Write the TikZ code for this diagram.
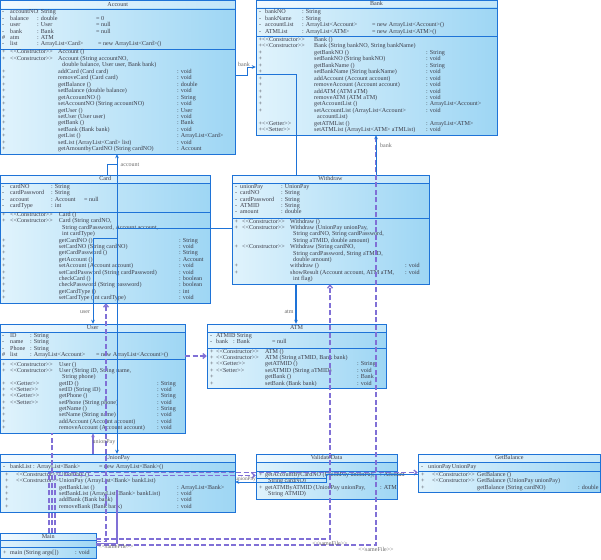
\documentclass[tikz,border=0pt]{standalone}
\usepackage{fontspec}
\setmainfont{Liberation Serif}[Ligatures=TeXOff]
\usetikzlibrary{arrows.meta,fit}
\definecolor{bodyL}{RGB}{224,243,252}
\definecolor{bodyR}{RGB}{158,214,244}
\definecolor{titleL}{RGB}{242,250,255}
\definecolor{titleR}{RGB}{192,229,249}
\definecolor{bord}{RGB}{30,115,215}
\definecolor{depc}{RGB}{128,112,214}
\definecolor{txtc}{RGB}{60,60,72}
\newcounter{tn}
\newcommand\tx[3]{\stepcounter{tn}\node[txt] (t\arabic{tn}) at (#1,#2) {#3};}
\newcommand\st[1]{<\kern0pt<#1>\kern0pt>}
\newcommand\umlclass[8]{%
  \shade[left color=titleL,right color=titleR] (#2,#3) rectangle (#4,#6);
  \shade[left color=bodyL,right color=bodyR] (#2,#6) rectangle (#4,#5);
  \draw[border] (#2,#3) rectangle (#4,#5);
  \draw[border] (#2,#6) -- (#4,#6);
  \draw[border] (#2,#7) -- (#4,#7);
  \node[fit={(#2,#3) (#4,#5)},inner sep=0pt] (#1) {};
  \node[ttl] (#1-title) at ({(#2+#4)/2},{(#3+#6)/2}) {#8};
}
\begin{document}
\begin{tikzpicture}[x=1pt,y=-1pt,
  txt/.style={anchor=west,inner sep=0pt,text height=4.2pt,text depth=1.2pt,font=\fontsize{6.1}{7}\selectfont,text=txtc},
  ttl/.style={anchor=center,inner sep=0pt,text height=4.2pt,text depth=1.2pt,font=\fontsize{6.1}{7}\selectfont,text=txtc},
  lbl/.style={anchor=center,inner sep=0pt,text height=4.2pt,text depth=1.2pt,font=\fontsize{6}{7}\selectfont,text=gray!85!black},
  border/.style={draw=bord,line width=0.9pt},
  assoc/.style={draw=bord,line width=0.9pt},
  dep/.style={draw=depc,line width=1.3pt,dash pattern=on 5pt off 2.5pt},
  sol/.style={draw=depc,line width=1.1pt},
  tipA/.style={-{Stealth[length=4pt,width=3.6pt]}},
  tipO/.style={-{Straight Barb[length=3pt,width=5pt]}},
]
\fill[white] (0,0) rectangle (601,559);
\useasboundingbox (0,0) rectangle (601,559);

% ---------------- Account
\umlclass{account}{0.5}{0.5}{235}{154}{9}{49}{Account}
\tx{2}{12.5}{-}\tx{10}{12.5}{accountNO}\tx{37}{12.5}{: String}
\tx{2}{18.9}{-}\tx{10}{18.9}{balance}\tx{37}{18.9}{: double}\tx{96}{18.9}{= 0}
\tx{2}{25.3}{-}\tx{10}{25.3}{user}\tx{37}{25.3}{: User}\tx{96}{25.3}{= null}
\tx{2}{31.7}{-}\tx{10}{31.7}{bank}\tx{37}{31.7}{: Bank}\tx{96}{31.7}{= null}
\tx{2}{38.1}{\#}\tx{10}{38.1}{atm}\tx{37}{38.1}{: ATM}
\tx{2}{44.5}{-}\tx{10}{44.5}{list}\tx{37}{44.5}{: ArrayList<Card>}\tx{98}{44.5}{= new ArrayList<Card>()}
\tx{2}{52.5}{+}\tx{10}{52.5}{\st{Constructor}}\tx{58}{52.5}{Account ()}
\tx{2}{58.95}{+}\tx{10}{58.95}{\st{Constructor}}\tx{58}{58.95}{Account (String accountNO,}
\tx{62}{65.4}{double balance, User user, Bank bank)}
\tx{2}{71.85}{+}\tx{58}{71.85}{addCard (Card card)}\tx{177}{71.85}{: void}
\tx{2}{78.3}{+}\tx{58}{78.3}{removeCard (Card card)}\tx{177}{78.3}{: void}
\tx{2}{84.75}{+}\tx{58}{84.75}{getBalance ()}\tx{177}{84.75}{: double}
\tx{2}{91.2}{+}\tx{58}{91.2}{setBalance (double balance)}\tx{177}{91.2}{: void}
\tx{2}{97.65}{+}\tx{58}{97.65}{getAccountNO ()}\tx{177}{97.65}{: String}
\tx{2}{104.1}{+}\tx{58}{104.1}{setAccountNO (String accountNO)}\tx{177}{104.1}{: void}
\tx{2}{110.55}{+}\tx{58}{110.55}{getUser ()}\tx{177}{110.55}{: User}
\tx{2}{117}{+}\tx{58}{117}{setUser (User user)}\tx{177}{117}{: void}
\tx{2}{123.45}{+}\tx{58}{123.45}{getBank ()}\tx{177}{123.45}{: Bank}
\tx{2}{129.9}{+}\tx{58}{129.9}{setBank (Bank bank)}\tx{177}{129.9}{: void}
\tx{2}{136.35}{+}\tx{58}{136.35}{getList ()}\tx{177}{136.35}{: ArrayList<Card>}
\tx{2}{142.8}{+}\tx{58}{142.8}{setList (ArrayList<Card> list)}\tx{177}{142.8}{: void}
\tx{2}{149.25}{+}\tx{58}{149.25}{getAmountbyCardNO (String cardNO)}\tx{177}{149.25}{: Account}

% ---------------- Bank
\umlclass{bank}{256}{0.5}{497}{135}{8}{36}{Bank}
\tx{259}{12.5}{-}\tx{265}{12.5}{bankNO}\tx{302}{12.5}{: String}
\tx{259}{18.9}{-}\tx{265}{18.9}{bankName}\tx{302}{18.9}{: String}
\tx{259}{25.3}{-}\tx{265}{25.3}{accountList}\tx{302}{25.3}{: ArrayList<Account>}\tx{372}{25.3}{= new ArrayList<Account>()}
\tx{259}{31.7}{-}\tx{265}{31.7}{ATMList}\tx{302}{31.7}{: ArrayList<ATM>}\tx{372}{31.7}{= new ArrayList<ATM>()}
\tx{258.5}{40}{+}\tx{262}{40}{\st{Constructor}}\tx{314}{40}{Bank ()}
\tx{258.5}{46.45}{+}\tx{262}{46.45}{\st{Constructor}}\tx{314}{46.45}{Bank (String bankNO, String bankName)}
\tx{258.5}{52.9}{+}\tx{314}{52.9}{getBankNO ()}\tx{426}{52.9}{: String}
\tx{258.5}{59.35}{+}\tx{314}{59.35}{setBankNO (String bankNO)}\tx{426}{59.35}{: void}
\tx{258.5}{65.8}{+}\tx{314}{65.8}{getBankName ()}\tx{426}{65.8}{: String}
\tx{258.5}{72.25}{+}\tx{314}{72.25}{setBankName (String bankName)}\tx{426}{72.25}{: void}
\tx{258.5}{78.7}{+}\tx{314}{78.7}{addAccount (Account account)}\tx{426}{78.7}{: void}
\tx{258.5}{85.15}{+}\tx{314}{85.15}{removeAccount (Account account)}\tx{426}{85.15}{: void}
\tx{258.5}{91.6}{+}\tx{314}{91.6}{addATM (ATM aTM)}\tx{426}{91.6}{: void}
\tx{258.5}{98.05}{+}\tx{314}{98.05}{removeATM (ATM aTM)}\tx{426}{98.05}{: void}
\tx{258.5}{104.5}{+}\tx{314}{104.5}{getAccountList ()}\tx{426}{104.5}{: ArrayList<Account>}
\tx{258.5}{110.95}{+}\tx{314}{110.95}{setAccountList (ArrayList<Account>}\tx{426}{110.95}{: void}
\tx{317}{117.4}{accountList)}
\tx{258.5}{123.85}{+}\tx{262}{123.85}{\st{Getter}}\tx{314}{123.85}{getATMList ()}\tx{426}{123.85}{: ArrayList<ATM>}
\tx{258.5}{130.3}{+}\tx{262}{130.3}{\st{Setter}}\tx{314}{130.3}{setATMList (ArrayList<ATM> aTMList)}\tx{426}{130.3}{: void}

% ---------------- Card
\umlclass{card}{0.5}{175}{210}{303}{183}{212}{Card}
\tx{2}{187}{-}\tx{10}{187}{cardNO}\tx{51}{187}{: String}
\tx{2}{193.4}{-}\tx{10}{193.4}{cardPassword}\tx{51}{193.4}{: String}
\tx{2}{199.8}{-}\tx{10}{199.8}{account}\tx{51}{199.8}{: Account}\tx{84}{199.8}{= null}
\tx{2}{206.2}{-}\tx{10}{206.2}{cardType}\tx{51}{206.2}{: int}
\tx{2}{215}{+}\tx{10}{215}{\st{Constructor}}\tx{58.7}{215}{Card ()}
\tx{2}{221.4}{+}\tx{10}{221.4}{\st{Constructor}}\tx{58.7}{221.4}{Card (String cardNO,}
\tx{62}{227.8}{String cardPassword, Account account,}
\tx{62}{234.2}{int cardType)}
\tx{2}{240.6}{+}\tx{58.7}{240.6}{getCardNO ()}\tx{179}{240.6}{: String}
\tx{2}{247}{+}\tx{58.7}{247}{setCardNO (String cardNO)}\tx{179}{247}{: void}
\tx{2}{253.4}{+}\tx{58.7}{253.4}{getCardPassword ()}\tx{179}{253.4}{: String}
\tx{2}{259.8}{+}\tx{58.7}{259.8}{getAccount ()}\tx{179}{259.8}{: Account}
\tx{2}{266.2}{+}\tx{58.7}{266.2}{setAccount (Account account)}\tx{179}{266.2}{: void}
\tx{2}{272.6}{+}\tx{58.7}{272.6}{setCardPassword (String cardPassword)}\tx{179}{272.6}{: void}
\tx{2}{279}{+}\tx{58.7}{279}{checkCard ()}\tx{179}{279}{: boolean}
\tx{2}{285.4}{+}\tx{58.7}{285.4}{checkPassword (String password)}\tx{179}{285.4}{: boolean}
\tx{2}{291.8}{+}\tx{58.7}{291.8}{getCardType ()}\tx{179}{291.8}{: int}
\tx{2}{298.2}{+}\tx{58.7}{298.2}{setCardType (int cardType)}\tx{179}{298.2}{: void}

% ---------------- Withdraw
\umlclass{withdraw}{232}{175}{429}{284}{183}{218}{Withdraw}
\tx{235}{187}{-}\tx{240}{187}{unionPay}\tx{281}{187}{: UnionPay}
\tx{235}{193.3}{-}\tx{240}{193.3}{cardNO}\tx{281}{193.3}{: String}
\tx{235}{199.6}{-}\tx{240}{199.6}{cardPassword}\tx{281}{199.6}{: String}
\tx{235}{205.9}{-}\tx{240}{205.9}{ATMID}\tx{281}{205.9}{: String}
\tx{235}{212.2}{-}\tx{240}{212.2}{amount}\tx{281}{212.2}{: double}
\tx{234.5}{221.5}{+}\tx{242}{221.5}{\st{Constructor}}\tx{290}{221.5}{Withdraw ()}
\tx{234.5}{227.9}{+}\tx{242}{227.9}{\st{Constructor}}\tx{290}{227.9}{Withdraw (UnionPay unionPay,}
\tx{293}{234.3}{String cardNO, String cardPassword,}
\tx{293}{240.7}{String aTMID, double amount)}
\tx{234.5}{247.1}{+}\tx{242}{247.1}{\st{Constructor}}\tx{290}{247.1}{Withdraw (String cardNO,}
\tx{293}{253.5}{String cardPassword, String aTMID,}
\tx{293}{259.9}{double amount)}
\tx{234.5}{266.3}{+}\tx{290}{266.3}{withdraw ()}\tx{405}{266.3}{: void}
\tx{234.5}{272.7}{+}\tx{290}{272.7}{showResult (Account account, ATM aTM,}\tx{405}{272.7}{: void}
\tx{293}{279.1}{int flag)}

% ---------------- User
\umlclass{user}{0.5}{324}{185}{433}{332}{359}{User}
\tx{2}{336}{-}\tx{10}{336}{ID}\tx{30}{336}{: String}
\tx{2}{342.4}{-}\tx{10}{342.4}{name}\tx{30}{342.4}{: String}
\tx{2}{348.8}{-}\tx{10}{348.8}{Phone}\tx{30}{348.8}{: String}
\tx{2}{355.2}{\#}\tx{10}{355.2}{list}\tx{30}{355.2}{: ArrayList<Account>}\tx{96}{355.2}{= new ArrayList<Account>()}
\tx{2}{364.5}{+}\tx{10}{364.5}{\st{Constructor}}\tx{59}{364.5}{User ()}
\tx{2}{370.85}{+}\tx{10}{370.85}{\st{Constructor}}\tx{59}{370.85}{User (String iD, String name,}
\tx{62}{377.2}{String phone)}
\tx{2}{383.55}{+}\tx{10}{383.55}{\st{Getter}}\tx{59}{383.55}{getID ()}\tx{157}{383.55}{: String}
\tx{2}{389.9}{+}\tx{10}{389.9}{\st{Setter}}\tx{59}{389.9}{setID (String iD)}\tx{157}{389.9}{: void}
\tx{2}{396.25}{+}\tx{10}{396.25}{\st{Getter}}\tx{59}{396.25}{getPhone ()}\tx{157}{396.25}{: String}
\tx{2}{402.6}{+}\tx{10}{402.6}{\st{Setter}}\tx{59}{402.6}{setPhone (String phone)}\tx{157}{402.6}{: void}
\tx{2}{408.95}{+}\tx{59}{408.95}{getName ()}\tx{157}{408.95}{: String}
\tx{2}{415.3}{+}\tx{59}{415.3}{setName (String name)}\tx{157}{415.3}{: void}
\tx{2}{421.65}{+}\tx{59}{421.65}{addAccount (Account account)}\tx{157}{421.65}{: void}
\tx{2}{428}{+}\tx{59}{428}{removeAccount (Account account)}\tx{157}{428}{: void}

% ---------------- ATM
\umlclass{atm}{207}{324}{386}{388}{332}{348}{ATM}
\tx{210}{336}{-}\tx{216}{336}{ATMID}\tx{233}{336}{: String}
\tx{210}{342.4}{-}\tx{216}{342.4}{bank}\tx{233}{342.4}{: Bank}\tx{272}{342.4}{= null}
\tx{210}{351.5}{+}\tx{216}{351.5}{\st{Constructor}}\tx{265}{351.5}{ATM ()}
\tx{210}{357.9}{+}\tx{216}{357.9}{\st{Constructor}}\tx{265}{357.9}{ATM (String aTMID, Bank bank)}
\tx{210}{364.3}{+}\tx{216}{364.3}{\st{Getter}}\tx{265}{364.3}{getATMID ()}\tx{357}{364.3}{: String}
\tx{210}{370.7}{+}\tx{216}{370.7}{\st{Setter}}\tx{265}{370.7}{setATMID (String aTMID)}\tx{357}{370.7}{: void}
\tx{210}{377.1}{+}\tx{265}{377.1}{getBank ()}\tx{357}{377.1}{: Bank}
\tx{210}{383.5}{+}\tx{265}{383.5}{setBank (Bank bank)}\tx{357}{383.5}{: void}

% ---------------- UnionPay
\umlclass{unionpay}{0.5}{454}{235}{512}{462}{471}{UnionPay}
\tx{3}{466.5}{-}\tx{10}{466.5}{bankList}\tx{33}{466.5}{: ArrayList<Bank>}\tx{99}{466.5}{= new ArrayList<Bank>()}
\tx{5}{474.8}{+}\tx{16}{474.8}{\st{Constructor}}\tx{59}{474.8}{UnionPay ()}
\tx{5}{481.15}{+}\tx{16}{481.15}{\st{Constructor}}\tx{59}{481.15}{UnionPay (ArrayList<Bank> bankList)}
\tx{5}{487.5}{+}\tx{59}{487.5}{getBankList ()}\tx{177}{487.5}{: ArrayList<Bank>}
\tx{5}{493.85}{+}\tx{59}{493.85}{setBankList (ArrayList<Bank> bankList)}\tx{177}{493.85}{: void}
\tx{5}{500.2}{+}\tx{59}{500.2}{addBank (Bank bank)}\tx{177}{500.2}{: void}
\tx{5}{506.55}{+}\tx{59}{506.55}{removeBank (Bank bank)}\tx{177}{506.55}{: void}

% ---------------- ValidateData
\umlclass{validatedata}{256}{454}{397}{499}{462}{471}{ValidateData}
\tx{259}{474.8}{+}\tx{265}{474.8}{getAccountByCardNO (UnionPay unionPay,}\tx{380}{474.8}{: Account}
\tx{268}{481.15}{String cardNO)}
\tx{259}{487.5}{+}\tx{265}{487.5}{getATMByATMID (UnionPay unionPay,}\tx{380}{487.5}{: ATM}
\tx{268}{493.85}{String ATMID)}

% ---------------- GetBalance
\umlclass{getbalance}{418}{454}{600.5}{492}{462}{471}{GetBalance}
\tx{421}{466.5}{-}\tx{428}{466.5}{unionPay}\tx{448}{466.5}{: UnionPay}
\tx{421}{474.8}{+}\tx{432}{474.8}{\st{Constructor}}\tx{477}{474.8}{GetBalance ()}
\tx{421}{481.15}{+}\tx{432}{481.15}{\st{Constructor}}\tx{477}{481.15}{GetBalance (UnionPay unionPay)}
\tx{421}{487.5}{+}\tx{477}{487.5}{getBalance (String cardNO)}\tx{578}{487.5}{: double}

% ---------------- Main
\umlclass{main}{0.5}{533}{96}{558.5}{540}{547}{Main}
\tx{3}{552.5}{+}\tx{10}{552.5}{main (String args[])}\tx{75}{552.5}{: void}

% ================= dependencies (purple)
\draw[dep] (main.east |- 0,545) -- (376,545) -- (376,0 |- bank.south);
\draw[dep,tipO] (main.east |- 0,539) -- (330,539) -- (330,0 |- withdraw.south);
\draw[dep,tipO] (main.east |- 0,541.5) -- (106,541.5) -- (106,0 |- card.south);
\draw[dep] (52,0 |- main.north) -- (52,0 |- user.south);
\draw[dep,tipO] (49,0 |- main.north) -- (49,472.5) -- (getbalance.west |- 0,472.5);
\draw[dep,tipO] (55,0 |- main.north) -- (55,475.5) -- (validatedata.west |- 0,475.5);
\draw[dep,tipO] (user.east |- 0,356) -- (atm.west |- 0,356);
\draw[sol,-{Stealth[length=4pt,width=3.6pt]}] (93,0 |- unionpay.north) -- (93,0 |- user.south);
\draw[sol] (main.east |- 0,543.5) -- (117,543.5) -- (117,490);
\node[lbl] (sf1) at (330,543.5) {\st{sameFile}};
\node[lbl] (sf2) at (376,549.5) {\st{sameFile}};
\node[lbl] (sf3) at (116,547) {\st{sameFile}};

% ================= associations (blue)
\draw[assoc,tipA] (account.east |- 0,75) -- (247,75) -- (247,67) -- (bank.west |- 0,67);
\node[lbl] (lbank1) at (244,65.5) {bank};
\draw[assoc] (296,0 |- withdraw.north) -- (296,74) -- (bank.west |- 0,74);
\draw[assoc,tipA] (376,0 |- withdraw.north) -- (376,0 |- bank.south);
\node[lbl] (lbank2) at (386,146) {bank};
\draw[assoc,line width=1.6pt,tipA] (296,0 |- withdraw.south) -- (296,0 |- atm.north);
\node[lbl] (latm) at (289,312) {atm};
\draw[assoc] (107,0 |- card.north) -- (107,164) -- (117,164);
\draw[assoc,{Stealth[length=4pt,width=3.6pt]}-{Stealth[length=4pt,width=3.6pt]}] (117,0 |- unionpay.north) -- (117,0 |- account.south);
\node[lbl] (lacc) at (130,164.5) {account};
\node[lbl] (lup1) at (104,442) {unionPay};
\draw[assoc] (withdraw.west |- 0,228) -- (117,228);
\draw[assoc,tipA] (117,238) -- (93,238) -- (93,0 |- user.north);
\node[lbl] (luser) at (85,312) {user};
\draw[assoc,tipA] (getbalance.west |- 0,474) -- (326,474) -- (326,482) -- (unionpay.east |- 0,482);
\draw[assoc] (validatedata.west |- 0,478) -- (326,478);
\node[lbl,anchor=east,font=\fontsize{5.4}{6}\selectfont] (lup2) at (256,478.5) {unionPay};
\end{tikzpicture}
\end{document}
